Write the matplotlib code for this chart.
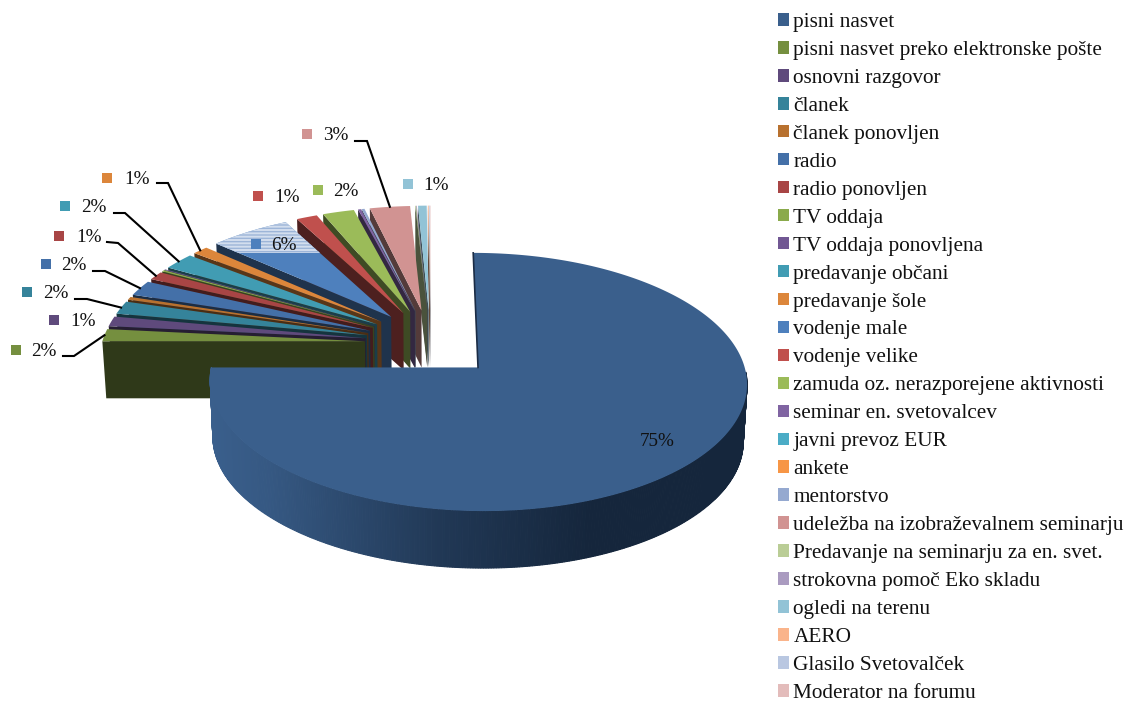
import numpy as np
import matplotlib
matplotlib.use('Agg')
import matplotlib.pyplot as plt
from matplotlib.patches import Polygon, Patch, Rectangle

plt.rcParams['font.family'] = ['Liberation Serif', 'DejaVu Serif']
plt.rcParams['hatch.linewidth'] = 1.0

# data
activities = ['pisni nasvet', 'pisni nasvet preko elektronske pošte', 'osnovni razgovor',
              'članek', 'članek ponovljen', 'radio', 'radio ponovljen', 'TV oddaja',
              'TV oddaja ponovljena', 'predavanje občani', 'predavanje šole', 'vodenje male',
              'vodenje velike', 'zamuda oz. nerazporejene aktivnosti', 'seminar en. svetovalcev',
              'javni prevoz EUR', 'ankete', 'mentorstvo', 'udeležba na izobraževalnem seminarju',
              'Predavanje na seminarju za en. svet.', 'strokovna pomoč Eko skladu',
              'ogledi na terenu', 'AERO', 'Glasilo Svetovalček', 'Moderator na forumu']
shares = [75.0, 1.6, 1.3, 1.7, 0.4, 2.0, 1.1, 0.2, 0.1, 2.2, 1.1, 5.6, 1.45, 2.2, 0.2,
          0.0, 0.0, 0.2, 2.8, 0.05, 0.05, 0.6, 0.05, 0.05, 0.05]
colors = ['#3a5f8c', '#758f3f', '#5f4a7c', '#35839a', '#b8712f', '#4470a8', '#a84545',
          '#8aaa4b', '#715793', '#419cb3', '#dc863b', '#4e80bd', '#c0504d', '#9bbb59',
          '#8064a2', '#4bacc6', '#f79646', '#95a9d0', '#d19392', '#bacd96', '#aa9bc0',
          '#92c3d6', '#fab48b', '#b9c7e1', '#e3bcbb']

# which slices have a label, and where the label sits (square left x, text left x, y)
label_slices = [0, 1, 2, 3, 5, 6, 9, 10, 11, 12, 13, 18, 21]
label_square_x = [624, 11, 49, 22, 41, 54, 60, 102, 251, 253, 313, 302, 403]
label_text_x = [640, 31, 70, 43, 61, 76, 81, 124, 271, 274, 333, 323, 423]
label_y = [439, 350, 320, 292, 264, 236, 206, 178, 244, 196, 190, 134, 184]
# leader lines: slice, start of line, elbow
leader_slices = [1, 3, 5, 6, 9, 10, 18]
leader_start = [(63, 356), (75, 299), (93, 271), (107, 242), (114, 213), (157, 183), (355, 141)]
leader_elbow = [(74, 356), (87, 299), (105, 271), (118, 243), (125, 213), (168, 183), (367, 141)]

# projection of the tilted pie
CX, CY = 430.5, 343.0
RX, RY = 263.0, 123.0
PERSP = 0.111
EXPLODE_X = 0.25
EXPLODE_Y = 0.275
BIG_R = 0.992
THICK = 57.0
BOTTOM_SCALE = 0.988


def project(X, Y, down=False):
    w = 1 + PERSP * Y
    x = CX + RX * X / w
    y = CY - RY * Y / w
    if down:
        x = CX + (x - CX) * BOTTOM_SCALE
        y = y + THICK
    return x, y


def shade(c, f):
    return tuple(v * f for v in matplotlib.colors.to_rgb(c))


def slice_points(t0, t1, down=False, r=1.0):
    mid = np.radians((t0 + t1) / 2)
    ox, oy = EXPLODE_X * np.sin(mid), EXPLODE_Y * np.cos(mid)
    th = np.radians(np.linspace(t0, t1, max(3, int(abs(t1 - t0) * 2))))
    X = np.r_[ox, ox + r * np.sin(th)]
    Y = np.r_[oy, oy + r * np.cos(th)]
    return np.column_stack(project(X, Y, down))


def outer_point(t0, t1, t):
    mid = np.radians((t0 + t1) / 2)
    X = EXPLODE_X * np.sin(mid) + np.sin(np.radians(t))
    Y = EXPLODE_Y * np.cos(mid) + np.cos(np.radians(t))
    return project(X, Y)


fig = plt.figure(figsize=(11.25, 7.01), dpi=100)
ax = fig.add_axes([0, 0, 1, 1])
ax.set_xlim(0, 1125)
ax.set_ylim(701, 0)
ax.axis('off')

edges = np.r_[0, np.cumsum(shares)] / np.sum(shares) * 360

# small slices, back to front
for i in range(len(shares) - 1, 0, -1):
    if shares[i] == 0:
        continue
    t0, t1 = edges[i], edges[i + 1]
    top = slice_points(t0, t1)
    bot = slice_points(t0, t1, down=True)
    wall = np.array([top[1], top[0], bot[0], bot[1]])
    ax.add_patch(Polygon(wall, closed=True, fc=shade(colors[i], 0.4), ec='none'))
    ax.add_patch(Polygon(top, closed=True, fc=colors[i], ec='none'))
    if activities[i] == 'vodenje male':
        # the washed out striped tip of this slice
        light = Polygon(top, closed=True, fc='#d3deee', ec='#9db5d8', hatch='-----', lw=0)
        ax.add_patch(light)
        light.set_clip_path(Rectangle((0, 0), 1125, 253, transform=ax.transData))

# big slice: outer wall in strips, dark towards the right
t0, t1 = edges[0], edges[1]
mid = np.radians((t0 + t1) / 2)
ox, oy = EXPLODE_X * np.sin(mid), EXPLODE_Y * np.cos(mid)
strip = np.arange(92, t1 + 0.01, 0.5)
tx, ty = project(ox + BIG_R * np.sin(np.radians(strip)), oy + BIG_R * np.cos(np.radians(strip)))
bx, by = project(ox + BIG_R * np.sin(np.radians(strip)), oy + BIG_R * np.cos(np.radians(strip)), down=True)
base = np.array(matplotlib.colors.to_rgb('#3a5f8c'))
dark = np.array(matplotlib.colors.to_rgb('#15263c'))
for k in range(len(strip) - 1):
    f = np.interp(tx[k], [210, 270, 440, 590], [0.0, 0.12, 0.68, 1.0])
    c = base + (dark - base) * f
    ax.add_patch(Polygon([(tx[k], ty[k]), (tx[k + 1], ty[k + 1]), (bx[k + 1], by[k + 1]), (bx[k], by[k])],
                         closed=True, fc=c, ec=c, lw=0.8))
big_top = slice_points(t0, t1, r=BIG_R)
ax.add_patch(Polygon(big_top, closed=True, fc=colors[0], ec='none'))
ax.plot([big_top[0][0], big_top[1][0]], [big_top[0][1], big_top[1][1]], color='#1b2c45', lw=1.2)

# leader lines
for s, st, el in zip(leader_slices, leader_start, leader_elbow):
    ex, ey = outer_point(edges[s], edges[s + 1], (edges[s] + edges[s + 1]) / 2)
    ax.plot([st[0], el[0], ex], [st[1], el[1], ey], color='black', lw=1.5, solid_joinstyle='miter')

# data labels
for s, sx, tx_, y in zip(label_slices, label_square_x, label_text_x, label_y):
    ax.add_patch(Rectangle((sx, y - 5), 10, 10, fc=colors[s], ec='none'))
    ax.text(tx_, y + 2, f'{round(shares[s])}%', fontsize=13.8, va='center', ha='left', color='#111111')

handles = [Patch(fc=c, ec='none') for c in colors]
ax.legend(handles, activities, loc='upper left', bbox_to_anchor=(778, 13), bbox_transform=ax.transData,
          frameon=False, fontsize=15.35, borderpad=0, borderaxespad=0, labelspacing=0.42,
          handlelength=0.52, handleheight=0.52, handletextpad=0.2, labelcolor='#111111')

fig.savefig('out.png', dpi=100)
